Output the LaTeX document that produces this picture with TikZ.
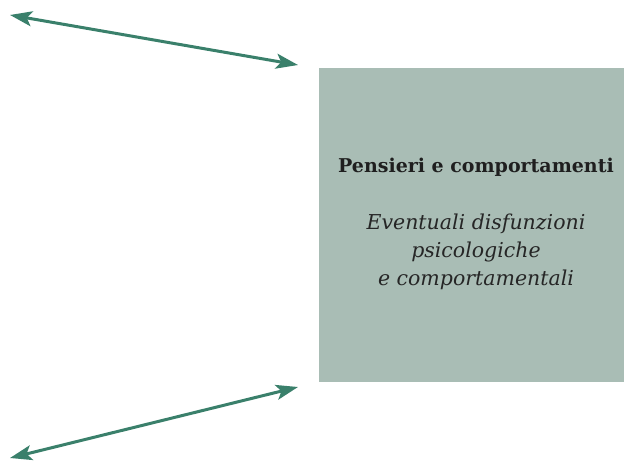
\documentclass[tikz,border=0pt]{standalone}
\usepackage{fontspec}
\setmainfont{DejaVu Serif}
\usetikzlibrary{arrows.meta}
\definecolor{boxgreen}{HTML}{A9BDB5}
\definecolor{arrowteal}{HTML}{3A806B}
\begin{document}
\begin{tikzpicture}[x=1pt,y=1pt,
    bothway/.style={arrowteal, line width=3pt,
      {Stealth[length=22pt,width=15pt,inset=5pt]}-{Stealth[length=22pt,width=15pt,inset=5pt]}},
    panel/.style={fill=boxgreen, inner sep=0pt, minimum width=305pt, minimum height=314pt}]
    \useasboundingbox (0,0) rectangle (624,461);
    \node[panel] (pensieri) at (471.5,236) {};
    \node[text=black!88, font=\fontsize{19}{22}\selectfont\bfseries] (titolo) at (476,294)
      {Pensieri e comportamenti};
    \node[text=black!85, font=\fontsize{20.5}{28}\selectfont\itshape, align=center] (testo) at (476,209)
      {Eventuali disfunzioni\\psicologiche\\e comportamentali};

    \coordinate (topleft) at (10,446);
    \coordinate (topright) at (298,396);
    \coordinate (botright) at (298,74);
    \coordinate (botleft) at (10,3);

    \draw[bothway] (topleft) -- (topright);
    \draw[bothway] (botright) -- (botleft);
\end{tikzpicture}
\end{document}
